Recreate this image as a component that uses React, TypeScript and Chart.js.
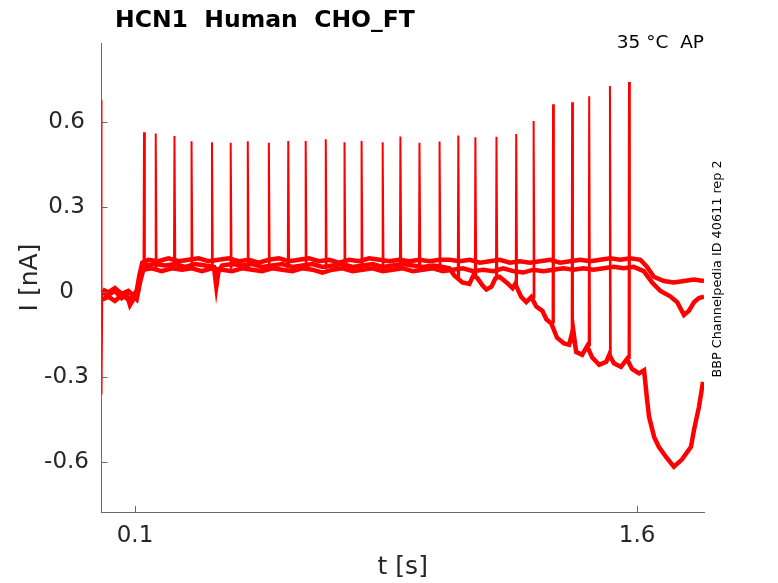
import { useEffect, useRef } from "react";
import { Chart, registerables } from "chart.js";

Chart.register(...registerables);

// ---- axis ticks ----
const xTicks = [0.1, 1.6];
const yTicks = [-0.6, -0.3, 0, 0.3, 0.6];

// ---- stimulus-locked spikes (time s, peak nA, level of lowest trace at spike nA) ----
const spikeT = [0.127, 0.162, 0.218, 0.269, 0.33, 0.386, 0.437, 0.5, 0.558, 0.61, 0.67, 0.726, 0.777, 0.84, 0.893, 0.95, 1.01, 1.066, 1.117, 1.18, 1.239, 1.291, 1.349, 1.406, 1.457, 1.519, 1.576];
const spikePeak = [0.565, 0.561, 0.552, 0.533, 0.53, 0.528, 0.533, 0.528, 0.534, 0.534, 0.54, 0.53, 0.534, 0.53, 0.55, 0.528, 0.532, 0.554, 0.547, 0.549, 0.559, 0.605, 0.664, 0.671, 0.692, 0.728, 0.742];
const spikeBase = [0.08, 0.085, 0.085, 0.085, 0.085, 0.085, 0.085, 0.085, 0.085, 0.085, 0.085, 0.085, 0.085, 0.085, 0.085, 0.085, 0.085, 0.05, 0.055, 0.05, 0.025, -0.02, -0.11, -0.18, -0.19, -0.22, -0.235];

// ---- onset transient ----
const transient: [number, number][] = [[0, 0.68], [0.0008, -0.36], [0.003, 0.0]];

// ---- sweep traces [t s, I nA] ----
const traceA: [number, number][] = [
  [0.003, 0.01], [0.02, 0.0], [0.04, 0.015], [0.06, -0.005], [0.08, 0.005], [0.095, -0.01], [0.105, 0.005],
  [0.113, 0.06], [0.122, 0.105], [0.14, 0.115], [0.17, 0.11], [0.2, 0.12], [0.23, 0.11], [0.26, 0.115],
  [0.29, 0.12], [0.32, 0.11], [0.35, 0.115], [0.38, 0.12], [0.41, 0.11], [0.44, 0.115], [0.47, 0.105],
  [0.5, 0.115], [0.53, 0.12], [0.56, 0.11], [0.59, 0.115], [0.62, 0.12], [0.65, 0.11], [0.68, 0.115],
  [0.71, 0.105], [0.74, 0.115], [0.77, 0.11], [0.8, 0.12], [0.83, 0.115], [0.86, 0.11], [0.89, 0.115],
  [0.92, 0.11], [0.95, 0.115], [0.98, 0.11], [1.01, 0.115], [1.04, 0.115], [1.07, 0.11], [1.1, 0.115],
  [1.13, 0.105], [1.16, 0.11], [1.19, 0.115], [1.22, 0.105], [1.25, 0.11], [1.28, 0.105], [1.31, 0.11],
  [1.34, 0.115], [1.37, 0.105], [1.4, 0.11], [1.43, 0.115], [1.46, 0.11], [1.49, 0.115], [1.52, 0.12],
  [1.55, 0.115], [1.58, 0.12], [1.61, 0.115], [1.63, 0.09], [1.65, 0.055], [1.68, 0.04], [1.71, 0.035],
  [1.74, 0.04], [1.77, 0.045], [1.8, 0.04],
];

const traceB: [number, number][] = [
  [0.003, -0.025], [0.02, -0.015], [0.04, -0.03], [0.06, -0.01], [0.08, -0.025], [0.095, -0.015], [0.105, -0.025],
  [0.115, 0.035], [0.125, 0.08], [0.15, 0.085], [0.18, 0.075], [0.21, 0.085], [0.24, 0.08], [0.27, 0.085],
  [0.3, 0.075], [0.33, 0.085], [0.36, 0.08], [0.39, 0.075], [0.42, 0.085], [0.45, 0.08], [0.48, 0.075],
  [0.51, 0.085], [0.54, 0.08], [0.57, 0.075], [0.6, 0.085], [0.63, 0.08], [0.66, 0.07], [0.69, 0.08],
  [0.72, 0.085], [0.75, 0.075], [0.78, 0.08], [0.81, 0.085], [0.84, 0.075], [0.87, 0.08], [0.9, 0.085],
  [0.93, 0.075], [0.96, 0.08], [0.99, 0.085], [1.02, 0.075], [1.05, 0.08], [1.08, 0.085], [1.11, 0.075],
  [1.14, 0.08], [1.17, 0.075], [1.2, 0.085], [1.23, 0.075], [1.26, 0.07], [1.29, 0.08], [1.32, 0.075],
  [1.35, 0.08], [1.38, 0.085], [1.41, 0.08], [1.44, 0.085], [1.47, 0.08], [1.5, 0.085], [1.53, 0.09],
  [1.56, 0.085], [1.59, 0.09], [1.62, 0.075], [1.645, 0.035], [1.67, 0.005], [1.7, -0.015], [1.72, -0.035],
  [1.74, -0.08], [1.755, -0.065], [1.77, -0.035], [1.785, -0.02], [1.8, -0.015],
];

const traceC: [number, number][] = [
  [0.003, 0.0], [0.02, -0.01], [0.04, 0.005], [0.06, -0.02], [0.075, -0.005], [0.085, -0.045], [0.1, -0.015],
  [0.108, 0.0], [0.118, 0.07], [0.128, 0.095], [0.16, 0.1], [0.19, 0.095], [0.22, 0.1], [0.25, 0.09],
  [0.28, 0.1], [0.31, 0.095], [0.336, 0.09], [0.343, 0.02], [0.349, 0.07], [0.36, 0.095], [0.39, 0.1],
  [0.42, 0.095], [0.45, 0.1], [0.48, 0.09], [0.51, 0.095], [0.54, 0.1], [0.57, 0.09], [0.6, 0.095],
  [0.63, 0.1], [0.66, 0.09], [0.69, 0.095], [0.72, 0.1], [0.75, 0.09], [0.78, 0.095], [0.81, 0.1],
  [0.84, 0.09], [0.87, 0.095], [0.9, 0.1], [0.93, 0.095], [0.96, 0.09], [0.99, 0.095], [1.02, 0.09],
  [1.039, 0.085], [1.054, 0.06], [1.078, 0.035], [1.099, 0.03], [1.111, 0.06], [1.123, 0.05],
  [1.138, 0.025], [1.15, 0.01], [1.165, 0.02], [1.177, 0.05], [1.189, 0.055], [1.21, 0.035],
  [1.228, 0.015], [1.236, 0.03], [1.254, -0.016], [1.269, -0.034], [1.284, -0.016], [1.299, -0.05],
  [1.317, -0.065], [1.329, -0.095], [1.344, -0.11], [1.361, -0.16], [1.382, -0.18], [1.397, -0.185],
  [1.409, -0.13], [1.418, -0.21], [1.436, -0.22], [1.451, -0.19], [1.466, -0.23], [1.487, -0.256],
  [1.508, -0.245], [1.517, -0.22], [1.531, -0.25], [1.552, -0.263], [1.57, -0.235], [1.585, -0.27],
  [1.606, -0.286], [1.621, -0.275], [1.63, -0.38], [1.636, -0.44], [1.651, -0.51], [1.665, -0.545],
  [1.686, -0.58], [1.71, -0.615], [1.734, -0.59], [1.761, -0.545], [1.77, -0.486], [1.785, -0.404],
  [1.797, -0.316],
];

const RED = "#ff0000";
const AXIS = "#6a6a6a";
const TEXT = "#262626";
const FONT = "'DejaVu Sans', 'Liberation Sans', sans-serif";

const toPts = (arr: [number, number][]) => arr.map(([x, y]) => ({ x, y }));

function spikePoints() {
  const out: { x: number; y: number | null }[] = [];
  spikeT.forEach((t, i) => {
    out.push({ x: t - 0.0015, y: spikeBase[i] });
    out.push({ x: t, y: spikePeak[i] });
    out.push({ x: t + 0.0025, y: spikeBase[i] });
    out.push({ x: t + 0.003, y: null });
  });
  return out;
}

const decorPlugin = {
  id: "decor",
  afterDraw(chart: any) {
    const { ctx, chartArea, scales } = chart;
    ctx.save();
    ctx.strokeStyle = AXIS;
    ctx.lineWidth = 1;
    ctx.beginPath();
    xTicks.forEach((v) => {
      const px = Math.round(scales.x.getPixelForValue(v)) + 0.5;
      ctx.moveTo(px, chartArea.bottom);
      ctx.lineTo(px, chartArea.bottom - 6);
    });
    yTicks.forEach((v) => {
      const py = Math.round(scales.y.getPixelForValue(v)) + 0.5;
      ctx.moveTo(chartArea.left, py);
      ctx.lineTo(chartArea.left + 6, py);
    });
    ctx.stroke();

    ctx.fillStyle = "#000";
    ctx.textBaseline = "alphabetic";
    ctx.textAlign = "left";
    ctx.font = `bold 23.5px ${FONT}`;
    ctx.fillText("HCN1  Human  CHO_FT", 115, 27);

    ctx.textAlign = "right";
    ctx.font = `18.5px ${FONT}`;
    ctx.fillText("35 °C  AP", 704, 47.5);

    ctx.translate(721, 269);
    ctx.rotate(-Math.PI / 2);
    ctx.textAlign = "center";
    ctx.font = `12.8px ${FONT}`;
    ctx.fillText("BBP Channelpedia ID 40611 rep 2", 0, 0);
    ctx.restore();
  },
};

export default function App() {
  const ref = useRef<HTMLCanvasElement | null>(null);

  useEffect(() => {
    if (!ref.current) return;
    const lineDs = (data: any[], width: number) => ({
      data,
      borderColor: RED,
      backgroundColor: RED,
      borderWidth: width,
      pointRadius: 0,
      tension: 0,
      spanGaps: false,
      fill: false,
    });
    const chart = new Chart(ref.current, {
      type: "line",
      data: {
        datasets: [
          lineDs(toPts(transient), 1.5),
          lineDs(toPts(traceA), 4.5),
          lineDs(toPts(traceB), 4.5),
          lineDs(toPts(traceC), 4.5),
          lineDs(spikePoints(), 2),
        ],
      },
      options: {
        animation: false,
        responsive: false,
        parsing: true,
        layout: { padding: { top: 43, right: 74, left: 0, bottom: 0 } },
        plugins: {
          legend: { display: false },
          tooltip: { enabled: false },
          title: { display: false },
        },
        scales: {
          x: {
            type: "linear",
            min: 0,
            max: 1.8,
            afterBuildTicks: (s: any) => {
              s.ticks = xTicks.map((v) => ({ value: v }));
            },
            afterFit: (s: any) => {
              s.height = 71;
            },
            grid: { display: true, drawOnChartArea: false, drawTicks: false },
            border: { display: true, color: AXIS, width: 1 },
            ticks: {
              color: TEXT,
              padding: 10,
              maxRotation: 0,
              autoSkip: false,
              font: { family: FONT, size: 23 },
              callback: (v: any) => String(v),
            },
            title: {
              display: true,
              text: "t [s]",
              color: TEXT,
              font: { family: FONT, size: 25 },
              padding: { top: 0, bottom: 1 },
            },
          },
          y: {
            type: "linear",
            min: -0.775,
            max: 0.88,
            afterBuildTicks: (s: any) => {
              s.ticks = yTicks.map((v) => ({ value: v }));
            },
            afterFit: (s: any) => {
              s.width = 101.5;
            },
            grid: { display: true, drawOnChartArea: false, drawTicks: false },
            border: { display: true, color: AXIS, width: 1 },
            ticks: {
              color: TEXT,
              padding: 12.5,
              crossAlign: "center",
              autoSkip: false,
              font: { family: FONT, size: 23 },
              callback: (v: any) => String(v),
            },
            title: {
              display: true,
              text: "I [nA]",
              color: TEXT,
              font: { family: FONT, size: 25 },
              padding: { top: 15, bottom: 0 },
            },
          },
        },
      },
      plugins: [decorPlugin],
    });
    return () => chart.destroy();
  }, []);

  return (
    <div style={{ position: "fixed", left: 0, top: 0, width: 778, height: 583, background: "#fff" }}>
      <canvas ref={ref} width={778} height={583} style={{ width: 778, height: 583, display: "block" }} />
    </div>
  );
}
